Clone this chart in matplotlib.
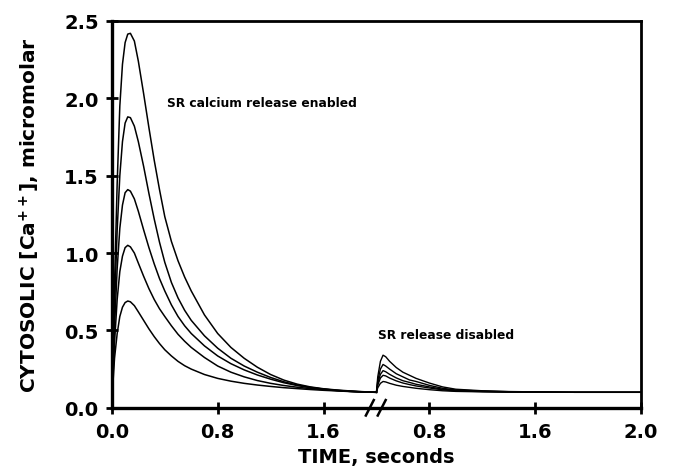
import numpy as np
import matplotlib

matplotlib.use("Agg")  # Non-interactive backend
import matplotlib.pyplot as plt
import matplotlib.transforms as mtransforms

plt.rcParams["font.family"] = ["DejaVu Sans"]
plt.rcParams["mathtext.default"] = "bf"

# Display x coordinate: first run 0..2.0, second run (after the break) 2.0..4.0
t_on = [0.00, 0.02, 0.04, 0.06, 0.08, 0.10, 0.12, 0.14, 0.17, 0.20, 0.24, 0.28,
        0.32, 0.36, 0.40, 0.45, 0.50, 0.55, 0.60, 0.70, 0.80, 0.90, 1.00, 1.10,
        1.20, 1.30, 1.40, 1.50, 1.60, 1.70, 1.80, 1.90, 2.00]

# SR calcium release enabled (five stimulus strengths)
ca_on_1 = [0.05, 0.80, 1.45, 1.95, 2.22, 2.36, 2.415, 2.42, 2.37, 2.24, 2.03, 1.81,
           1.60, 1.41, 1.235, 1.075, 0.95, 0.845, 0.755, 0.60, 0.48, 0.39, 0.32, 0.262,
           0.215, 0.179, 0.153, 0.135, 0.123, 0.115, 0.109, 0.104, 0.10]
ca_on_2 = [0.05, 0.65, 1.15, 1.50, 1.72, 1.84, 1.88, 1.875, 1.82, 1.72, 1.56, 1.385,
           1.22, 1.07, 0.94, 0.81, 0.71, 0.63, 0.565, 0.465, 0.385, 0.32, 0.27, 0.23,
           0.196, 0.168, 0.147, 0.132, 0.121, 0.113, 0.107, 0.103, 0.10]
ca_on_3 = [0.05, 0.52, 0.90, 1.16, 1.31, 1.39, 1.41, 1.40, 1.35, 1.27, 1.15, 1.035,
           0.93, 0.835, 0.755, 0.665, 0.59, 0.53, 0.48, 0.40, 0.335, 0.285, 0.245, 0.212,
           0.185, 0.162, 0.144, 0.13, 0.12, 0.112, 0.106, 0.102, 0.10]
ca_on_4 = [0.05, 0.42, 0.70, 0.88, 0.98, 1.035, 1.05, 1.04, 1.00, 0.935, 0.85, 0.77,
           0.70, 0.64, 0.59, 0.53, 0.475, 0.43, 0.39, 0.325, 0.27, 0.23, 0.20, 0.176,
           0.158, 0.144, 0.133, 0.124, 0.117, 0.111, 0.106, 0.102, 0.10]
ca_on_5 = [0.05, 0.32, 0.48, 0.59, 0.65, 0.68, 0.69, 0.685, 0.66, 0.62, 0.565, 0.51,
           0.46, 0.415, 0.375, 0.335, 0.30, 0.272, 0.25, 0.215, 0.19, 0.172, 0.158, 0.147,
           0.138, 0.13, 0.124, 0.118, 0.113, 0.109, 0.105, 0.102, 0.10]

# SR release disabled (after the axis break)
t_off = [2.00, 2.01, 2.03, 2.05, 2.07, 2.10, 2.15, 2.20, 2.25, 2.30, 2.40, 2.50,
         2.60, 2.80, 3.00, 3.50, 4.00]
ca_off_1 = [0.10, 0.20, 0.30, 0.34, 0.33, 0.30, 0.26, 0.23, 0.21, 0.19, 0.16, 0.135,
            0.12, 0.11, 0.105, 0.10, 0.10]
ca_off_2 = [0.10, 0.175, 0.25, 0.28, 0.27, 0.25, 0.22, 0.20, 0.18, 0.17, 0.145, 0.126,
            0.115, 0.108, 0.104, 0.10, 0.10]
ca_off_3 = [0.10, 0.158, 0.216, 0.24, 0.233, 0.216, 0.193, 0.175, 0.164, 0.152, 0.135,
            0.12, 0.112, 0.106, 0.103, 0.10, 0.10]
ca_off_4 = [0.10, 0.146, 0.192, 0.21, 0.206, 0.192, 0.174, 0.16, 0.15, 0.141, 0.128,
            0.116, 0.109, 0.105, 0.102, 0.10, 0.10]
ca_off_5 = [0.10, 0.129, 0.158, 0.17, 0.167, 0.158, 0.146, 0.138, 0.132, 0.126, 0.117,
            0.11, 0.106, 0.103, 0.101, 0.10, 0.10]

x_tick_pos = [0.0, 0.8, 1.6, 2.4, 3.2, 4.0]
x_tick_labels = ["0.0", "0.8", "1.6", "0.8", "1.6", "2.0"]
y_ticks = [0.0, 0.5, 1.0, 1.5, 2.0, 2.5]


def main():
    fig = plt.figure(figsize=(6.74, 4.77), dpi=100)
    ax = fig.add_axes([0.166, 0.143, 0.785, 0.811])

    for ca in (ca_on_1, ca_on_2, ca_on_3, ca_on_4, ca_on_5):
        ax.plot(t_on, ca, color="black", lw=1.1)
    for ca in (ca_off_1, ca_off_2, ca_off_3, ca_off_4, ca_off_5):
        ax.plot(t_off, ca, color="black", lw=1.0)

    ax.set_xlim(0, 4.0)
    ax.set_ylim(0, 2.5)
    ax.set_xticks(x_tick_pos)
    ax.set_xticklabels(x_tick_labels, fontweight="bold")
    ax.set_yticks(y_ticks)
    ax.set_yticklabels([f"{v:.1f}" for v in y_ticks], fontweight="bold")
    ax.tick_params(direction="inout", length=9, width=2.0, labelsize=14)
    ax.tick_params(axis="x", pad=6)
    ax.tick_params(axis="y", pad=5)

    for side in ("left", "bottom"):
        ax.spines[side].set_linewidth(2.4)
    for side in ("top", "right"):
        ax.spines[side].set_linewidth(2.0)

    # axis break marks
    trans = mtransforms.blended_transform_factory(ax.transData, ax.transAxes)
    for xb in (1.95, 2.04):
        ax.plot([xb - 0.03, xb + 0.03], [-0.02, 0.02], color="black", lw=1.8,
                transform=trans, clip_on=False)

    ax.set_xlabel("TIME, seconds", fontsize=14, fontweight="bold", labelpad=4)
    ax.set_ylabel(r"CYTOSOLIC [Ca$^{++}$], micromolar", fontsize=14.5,
                  fontweight="bold", labelpad=16)

    ax.text(0.42, 1.97, "SR calcium release enabled", fontsize=8.8, fontweight="bold",
            va="center")
    ax.text(2.01, 0.476, "SR release disabled", fontsize=8.8, fontweight="bold",
            va="center")

    plt.savefig("out.png", dpi=100)


if __name__ == "__main__":
    main()
